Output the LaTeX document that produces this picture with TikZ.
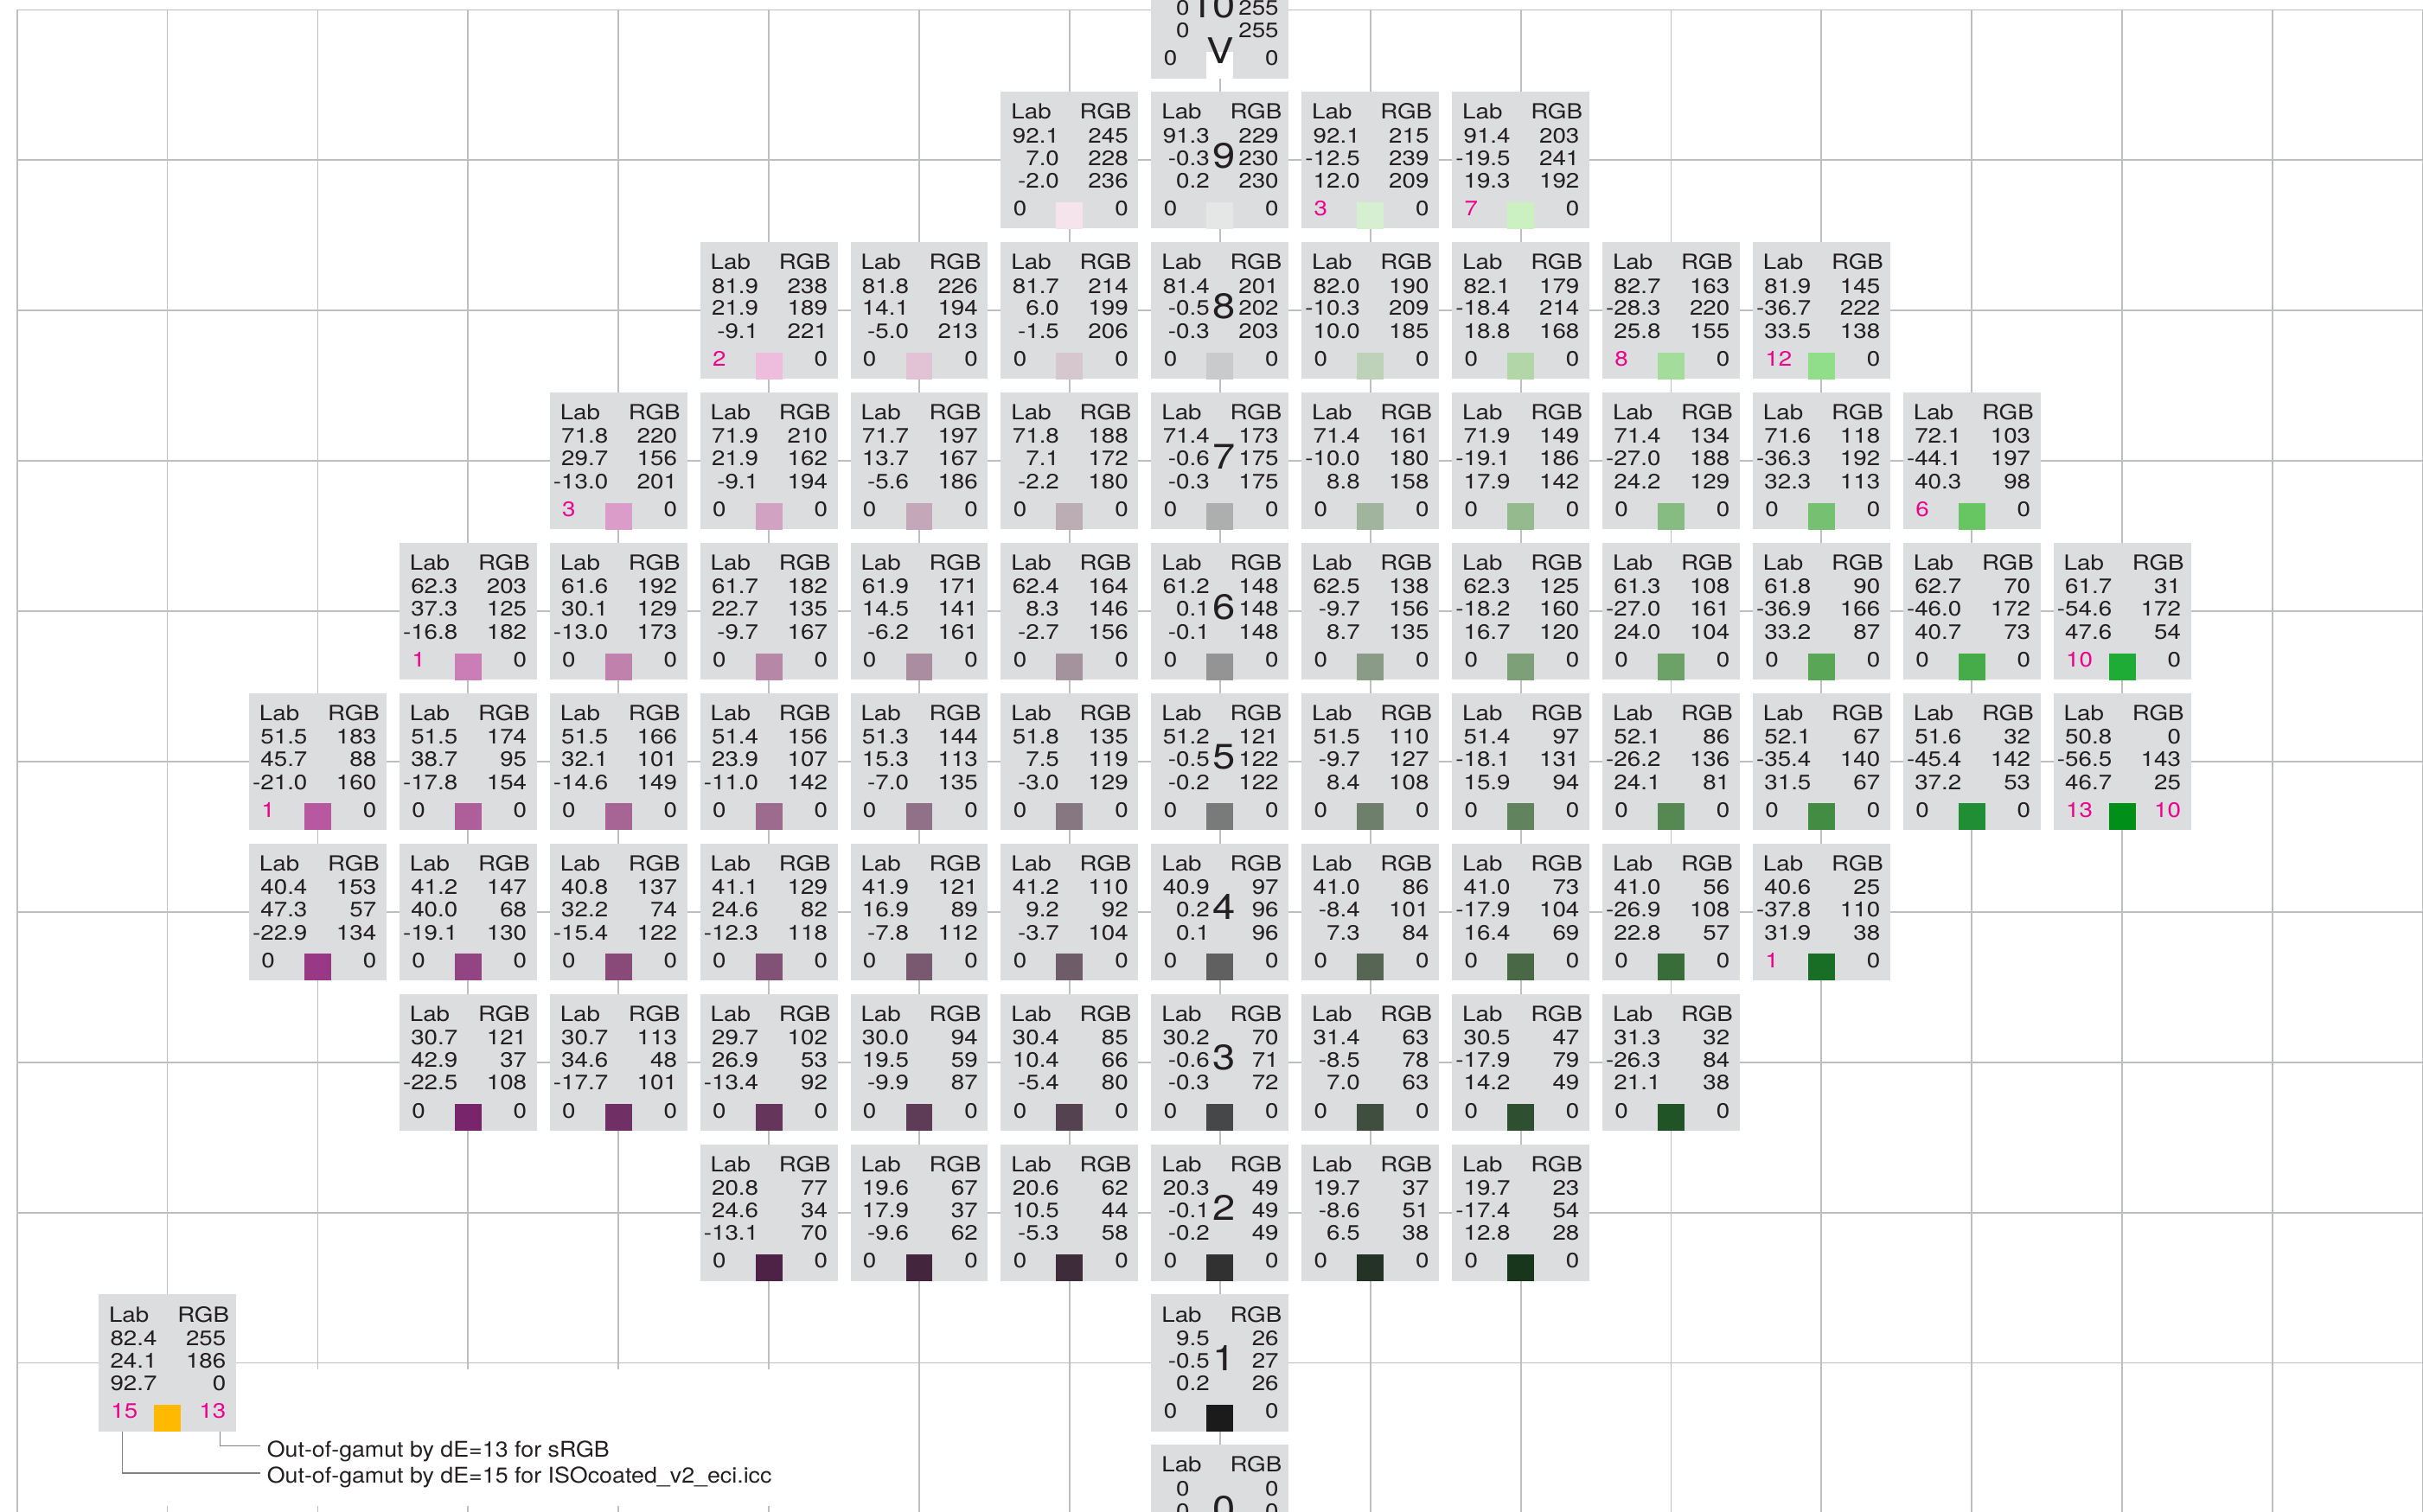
\documentclass[tikz,border=0pt]{standalone}
\usepackage{tikz}
\usepackage{fontspec}
\setmainfont{TeX Gyre Heros}
\newfontfamily\cellfont{TeX Gyre Heros}[FakeStretch=1.15]
\newfontfamily\legfont{TeX Gyre Heros}[FakeStretch=1.07]
\definecolor{gridc}{RGB}{188,190,192}
\definecolor{boxc}{RGB}{220,221,223}
\definecolor{ink}{RGB}{35,31,32}
\definecolor{mag}{RGB}{236,0,140}
\definecolor{leadc}{RGB}{128,130,133}
\newcommand{\intv}[1]{#1\phantom{.0}}
\begin{document}
\begin{tikzpicture}[x=1cm,y=1cm,
  gridl/.style={draw=gridc,line width=0.3pt},
  cellbox/.style={fill=boxc,draw=none,minimum width=0.914cm,minimum height=0.91cm,inner sep=0pt,outer sep=0pt},
  ct/.style={inner sep=0pt,outer sep=0pt,text=ink,font=\cellfont\fontsize{3.95}{4.5}\selectfont},
  big/.style={inner sep=0pt,outer sep=0pt,text=ink,font=\cellfont\fontsize{6.7}{7.5}\selectfont},
  legt/.style={inner sep=0pt,outer sep=0pt,text=ink,font=\legfont\fontsize{4.1}{5}\selectfont},
  leader/.style={draw=leadc,line width=0.22pt}]
\useasboundingbox (-8.113,0.014) rectangle (8.0,10.066);
\clip (-8.113,0.014) rectangle (8.0,10.066);
% grid
\draw[gridl] (-8,0) grid (8,10);
% white legend background
\fill[white] (-7.97,0.049) rectangle (-2.967,0.957);
% cells
\foreach \x/\y/\vL/\va/\vb/\vR/\vG/\vBl/\nl/\nr in {
 0/10/\intv{100}/\intv{0}/\intv{0}/255/255/255/0/0,
 -1/9/92.1/7.0/-2.0/245/228/236/0/0,
 0/9/91.3/-0.3/0.2/229/230/230/0/0,
 1/9/92.1/-12.5/12.0/215/239/209/3/0,
 2/9/91.4/-19.5/19.3/203/241/192/7/0,
 -3/8/81.9/21.9/-9.1/238/189/221/2/0,
 -2/8/81.8/14.1/-5.0/226/194/213/0/0,
 -1/8/81.7/6.0/-1.5/214/199/206/0/0,
 0/8/81.4/-0.5/-0.3/201/202/203/0/0,
 1/8/82.0/-10.3/10.0/190/209/185/0/0,
 2/8/82.1/-18.4/18.8/179/214/168/0/0,
 3/8/82.7/-28.3/25.8/163/220/155/8/0,
 4/8/81.9/-36.7/33.5/145/222/138/12/0,
 -4/7/71.8/29.7/-13.0/220/156/201/3/0,
 -3/7/71.9/21.9/-9.1/210/162/194/0/0,
 -2/7/71.7/13.7/-5.6/197/167/186/0/0,
 -1/7/71.8/7.1/-2.2/188/172/180/0/0,
 0/7/71.4/-0.6/-0.3/173/175/175/0/0,
 1/7/71.4/-10.0/8.8/161/180/158/0/0,
 2/7/71.9/-19.1/17.9/149/186/142/0/0,
 3/7/71.4/-27.0/24.2/134/188/129/0/0,
 4/7/71.6/-36.3/32.3/118/192/113/0/0,
 5/7/72.1/-44.1/40.3/103/197/98/6/0,
 -5/6/62.3/37.3/-16.8/203/125/182/1/0,
 -4/6/61.6/30.1/-13.0/192/129/173/0/0,
 -3/6/61.7/22.7/-9.7/182/135/167/0/0,
 -2/6/61.9/14.5/-6.2/171/141/161/0/0,
 -1/6/62.4/8.3/-2.7/164/146/156/0/0,
 0/6/61.2/0.1/-0.1/148/148/148/0/0,
 1/6/62.5/-9.7/8.7/138/156/135/0/0,
 2/6/62.3/-18.2/16.7/125/160/120/0/0,
 3/6/61.3/-27.0/24.0/108/161/104/0/0,
 4/6/61.8/-36.9/33.2/90/166/87/0/0,
 5/6/62.7/-46.0/40.7/70/172/73/0/0,
 6/6/61.7/-54.6/47.6/31/172/54/10/0,
 -6/5/51.5/45.7/-21.0/183/88/160/1/0,
 -5/5/51.5/38.7/-17.8/174/95/154/0/0,
 -4/5/51.5/32.1/-14.6/166/101/149/0/0,
 -3/5/51.4/23.9/-11.0/156/107/142/0/0,
 -2/5/51.3/15.3/-7.0/144/113/135/0/0,
 -1/5/51.8/7.5/-3.0/135/119/129/0/0,
 0/5/51.2/-0.5/-0.2/121/122/122/0/0,
 1/5/51.5/-9.7/8.4/110/127/108/0/0,
 2/5/51.4/-18.1/15.9/97/131/94/0/0,
 3/5/52.1/-26.2/24.1/86/136/81/0/0,
 4/5/52.1/-35.4/31.5/67/140/67/0/0,
 5/5/51.6/-45.4/37.2/32/142/53/0/0,
 6/5/50.8/-56.5/46.7/0/143/25/13/10,
 -6/4/40.4/47.3/-22.9/153/57/134/0/0,
 -5/4/41.2/40.0/-19.1/147/68/130/0/0,
 -4/4/40.8/32.2/-15.4/137/74/122/0/0,
 -3/4/41.1/24.6/-12.3/129/82/118/0/0,
 -2/4/41.9/16.9/-7.8/121/89/112/0/0,
 -1/4/41.2/9.2/-3.7/110/92/104/0/0,
 0/4/40.9/0.2/0.1/97/96/96/0/0,
 1/4/41.0/-8.4/7.3/86/101/84/0/0,
 2/4/41.0/-17.9/16.4/73/104/69/0/0,
 3/4/41.0/-26.9/22.8/56/108/57/0/0,
 4/4/40.6/-37.8/31.9/25/110/38/1/0,
 -5/3/30.7/42.9/-22.5/121/37/108/0/0,
 -4/3/30.7/34.6/-17.7/113/48/101/0/0,
 -3/3/29.7/26.9/-13.4/102/53/92/0/0,
 -2/3/30.0/19.5/-9.9/94/59/87/0/0,
 -1/3/30.4/10.4/-5.4/85/66/80/0/0,
 0/3/30.2/-0.6/-0.3/70/71/72/0/0,
 1/3/31.4/-8.5/7.0/63/78/63/0/0,
 2/3/30.5/-17.9/14.2/47/79/49/0/0,
 3/3/31.3/-26.3/21.1/32/84/38/0/0,
 -3/2/20.8/24.6/-13.1/77/34/70/0/0,
 -2/2/19.6/17.9/-9.6/67/37/62/0/0,
 -1/2/20.6/10.5/-5.3/62/44/58/0/0,
 0/2/20.3/-0.1/-0.2/49/49/49/0/0,
 1/2/19.7/-8.6/6.5/37/51/38/0/0,
 2/2/19.7/-17.4/12.8/23/54/28/0/0,
 0/1/9.5/-0.5/0.2/26/27/26/0/0,
 -7/1/82.4/24.1/92.7/255/186/0/15/13,
 0/0/\intv{0}/\intv{0}/\intv{0}/0/0/0/0/0}{
  \node[cellbox] (c\x_\y) at (\x,\y) {};
  \edef\tmpdef{\noexpand\definecolor{sw}{RGB}{\vR,\vG,\vBl}}\tmpdef
  \fill[sw] ({\x-0.089},{\y-0.457}) rectangle ({\x+0.089},{\y-0.279});
  \node[ct,anchor=base west] (hl\x_\y) at ({\x-0.388},{\y+0.273}) {Lab};
  \node[ct,anchor=base east] (hr\x_\y) at ({\x+0.411},{\y+0.273}) {RGB};
  \node[ct,anchor=base east] (l1\x_\y) at ({\x-0.069},{\y+0.116}) {\vL};
  \node[ct,anchor=base east] (l2\x_\y) at ({\x-0.069},{\y-0.033}) {\va};
  \node[ct,anchor=base east] (l3\x_\y) at ({\x-0.069},{\y-0.185}) {\vb};
  \node[ct,anchor=base east] (r1\x_\y) at ({\x+0.390},{\y+0.116}) {\vR};
  \node[ct,anchor=base east] (r2\x_\y) at ({\x+0.390},{\y-0.033}) {\vG};
  \node[ct,anchor=base east] (r3\x_\y) at ({\x+0.390},{\y-0.185}) {\vBl};
  \node[ct,anchor=base west] (dl\x_\y) at ({\x-0.374},{\y-0.370}) {\ifnum\nl=0 \else\color{mag}\fi\nl};
  \node[ct,anchor=base east] (dr\x_\y) at ({\x+0.390},{\y-0.370}) {\ifnum\nr=0 \else\color{mag}\fi\nr};
}
% big lightness labels
\foreach \r in {0,...,10}{
  \node[big,anchor=base east] (lab\r) at (0.105,{\r-0.052}) {\r};
}
\node[big,anchor=base] (vmark) at (0.004,9.645) {V};
% legend
\node[legt,anchor=base west] (t13) at (-6.337,0.371) {Out-of-gamut by dE=13 for sRGB};
\node[legt,anchor=base west] (t15) at (-6.337,0.200) {Out-of-gamut by dE=15 for ISOcoated\_v2\_eci.icc};
\coordinate (lg13) at (-6.648,0.545);
\coordinate (lg15) at (-7.301,0.545);
\draw[leader] (lg13) |- ([xshift=-0.046cm,yshift=0.076cm]t13.base west);
\draw[leader] (lg15) |- ([xshift=-0.046cm,yshift=0.067cm]t15.base west);
\end{tikzpicture}
\end{document}
